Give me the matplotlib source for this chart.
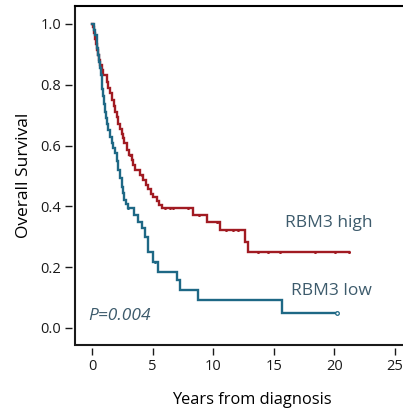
import matplotlib
matplotlib.use("Agg")
import matplotlib.pyplot as plt

# Kaplan-Meier steps (time in years, survival after event)
high_t = [0.08, 0.17, 0.25, 0.33, 0.41, 0.50, 0.58, 0.66, 0.79, 0.91, 1.26, 1.36,
          1.49, 1.65, 1.82, 1.94, 2.07, 2.17, 2.31, 2.45, 2.56, 2.67, 2.87, 3.06,
          3.28, 3.41, 3.55, 3.97, 4.24, 4.46, 4.65, 4.88, 5.07, 5.35, 5.54, 5.76,
          8.35, 9.48, 10.58, 12.64, 12.87]
high_s = [0.99, 0.97, 0.95, 0.934, 0.914, 0.898, 0.882, 0.865, 0.849, 0.832, 0.809, 0.789,
          0.773, 0.75, 0.73, 0.711, 0.694, 0.671, 0.655, 0.638, 0.625, 0.609, 0.586, 0.569,
          0.553, 0.536, 0.52, 0.503, 0.487, 0.47, 0.457, 0.441, 0.431, 0.418, 0.405, 0.395,
          0.372, 0.35, 0.322, 0.284, 0.251]
high_end = 21.2
high_cens = [3.15, 4.1, 6.03, 6.45, 6.7, 7.95, 8.85, 10.3, 10.45, 11.1, 11.65, 12.07,
             13.7, 14.5, 15.5, 18.4, 20.1, 21.2]

low_t = [0.17, 0.29, 0.39, 0.45, 0.54, 0.60, 0.66, 0.73, 0.80, 0.87, 0.93, 1.01,
         1.07, 1.16, 1.24, 1.35, 1.49, 1.63, 1.76, 1.90, 2.04, 2.17, 2.31, 2.45,
         2.56, 2.67, 2.81, 2.95, 3.47, 3.8, 4.1, 4.35, 4.6, 5.04, 5.48, 7.05,
         7.27, 8.78, 15.7]
low_s = [0.98, 0.964, 0.944, 0.921, 0.898, 0.875, 0.855, 0.832, 0.809, 0.786, 0.763, 0.737,
         0.711, 0.691, 0.671, 0.651, 0.628, 0.609, 0.592, 0.576, 0.549, 0.52, 0.493, 0.464,
         0.444, 0.421, 0.408, 0.394, 0.37, 0.35, 0.33, 0.30, 0.25, 0.218, 0.185, 0.158,
         0.125, 0.092, 0.048]
low_end = 20.2
low_cens = [3.0, 5.2]

red = "#a11b22"
blue = "#1e6885"
txt = "#3d5b6c"

plt.rcParams['font.family'] = ['Open Sans', 'DejaVu Sans']

fig = plt.figure(figsize=(4.03, 4.09), dpi=100)
ax = fig.add_axes([75/403, 64/409, 344/403, 339/409])


def km(t, s, end):
    xs = [0] + list(t) + [end]
    ys = [1.0] + list(s) + [s[-1]]
    return xs, ys


def surv_at(t, s, x):
    v = 1.0
    for ti, si in zip(t, s):
        if ti <= x:
            v = si
    return v


xs, ys = km(high_t, high_s, high_end)
ax.step(xs, ys, where='post', color=red, lw=1.7, solid_joinstyle='miter')
ax.plot(high_cens, [surv_at(high_t, high_s, c) for c in high_cens], ls='none',
        marker='o', ms=2.2, color=red, mew=0)

xs, ys = km(low_t, low_s, low_end)
ax.step(xs, ys, where='post', color=blue, lw=1.7, solid_joinstyle='miter')
ax.plot(low_cens, [surv_at(low_t, low_s, c) for c in low_cens], ls='none',
        marker='o', ms=2.2, color=blue, mew=0)
ax.plot([low_end], [low_s[-1]], marker='o', ms=2.6, mfc='white', mec=blue, mew=0.9)

ax.set_xlim(-1.4, 27)
ax.set_ylim(-0.056, 1.059)
ax.set_xticks([0, 5, 10, 15, 20, 25])
ax.set_yticks([0.0, 0.2, 0.4, 0.6, 0.8, 1.0])
ax.set_yticklabels(['0.0', '0.2', '0.4', '0.6', '0.8', '1.0'])

# ticks sit a little away from the frame
for side in ['left', 'bottom']:
    ax.spines[side].set_position(('outward', 2.3))
    ax.spines[side].set_visible(False)
ax.spines['right'].set_visible(False)
ax.spines['top'].set_linewidth(1.5)
ax.plot([0, 0, 1], [1, 0, 0], transform=ax.transAxes, color='#1a1a1a', lw=1.5,
        clip_on=False, solid_joinstyle='miter')
ax.tick_params(direction='out', length=5, width=1.0, labelsize=10.5, pad=2.5,
               colors='#1a1a1a')

ax.set_xlabel('Years from diagnosis', fontsize=11.8, labelpad=11)
ax.xaxis.set_label_coords(0.515, -0.14)
ax.set_ylabel('Overall Survival', fontsize=12.5, labelpad=6)

ax.text(15.9, 0.345, 'RBM3 high', fontsize=12.5, color=txt, va='center')
ax.text(16.4, 0.12, 'RBM3 low', fontsize=12.5, color=txt, va='center')
ax.text(-0.3, 0.04, 'P=0.004', fontsize=12.5, color=txt, style='italic', va='center')

fig.savefig('out.png', dpi=100)
